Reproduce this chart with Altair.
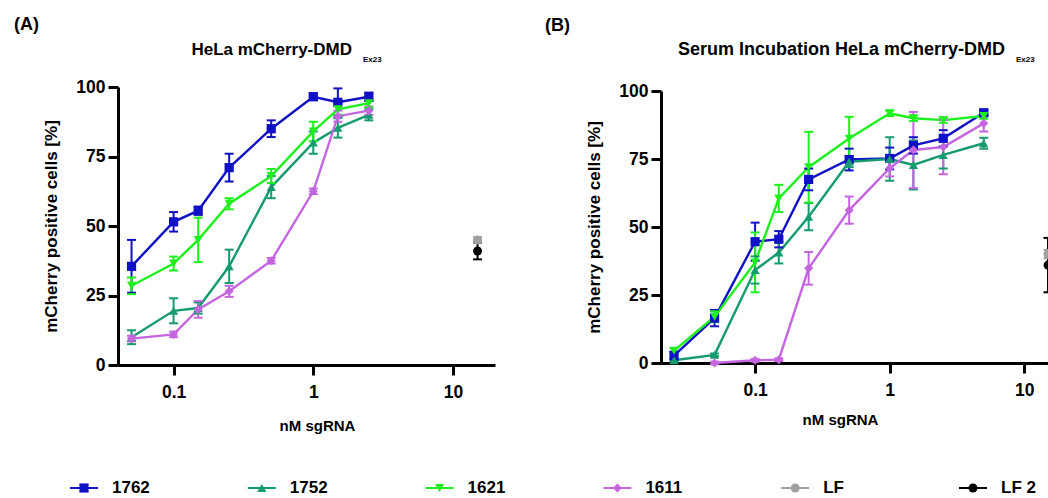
import altair as alt
import pandas as pd

FONT = "Liberation Sans"

series = ["1762", "1752", "1621", "1611", "LF", "LF 2"]
colors = ["#1010c4", "#169a70", "#1ef01e", "#c466e0", "#a0a0a0", "#000000"]
shapes = ["square", "triangle-up", "triangle-down", "diamond", "circle", "circle"]
sizes = [85, 80, 80, 60, 45, 40]

# Panel A: HeLa mCherry-DMD Ex23
conc_A = [0.05, 0.1, 0.15, 0.25, 0.5, 1, 1.5, 2.5]
A_1762 = [35.5, 51.5, 55.5, 71.0, 85.0, 96.5, 94.5, 96.5]
A_1762_err = [9.5, 3.5, 1.5, 5.0, 3.0, 1.2, 5.0, 1.5]
A_1752 = [10.0, 19.5, 20.5, 35.5, 64.0, 80.0, 85.3, 90.0]
A_1752_err = [2.5, 4.5, 2.0, 6.0, 4.0, 4.0, 3.5, 2.0]
A_1621 = [28.5, 36.5, 45.0, 58.0, 68.0, 84.0, 92.0, 94.2]
A_1621_err = [3.0, 2.5, 8.0, 2.0, 2.5, 3.5, 2.0, 1.5]
A_1611 = [9.5, 11.0, 20.0, 26.5, 37.5, 62.5, 89.5, 91.5]
A_1611_err = [1.0, 1.0, 3.0, 2.0, 1.0, 1.0, 2.0, 1.5]
conc_LF = [15]
A_LF = [45.0]
A_LF_err = [1.0]
A_LF2 = [41.0]
A_LF2_err = [3.0]

# Panel B: Serum incubation HeLa mCherry-DMD Ex23
conc_B = [0.025, 0.05, 0.1, 0.15, 0.25, 0.5, 1, 1.5, 2.5, 5]
B_1762 = [2.7, 16.5, 44.6, 45.5, 67.5, 74.8, 75.2, 80.0, 82.6, 92.0]
B_1762_err = [1.5, 3.0, 7.0, 3.0, 4.0, 4.0, 4.0, 3.0, 3.0, 1.0]
B_1752 = [1.0, 3.0, 34.2, 40.6, 53.8, 74.0, 75.0, 72.8, 76.5, 80.8]
B_1752_err = [0.5, 0.5, 5.0, 4.0, 5.0, 2.0, 8.0, 9.0, 5.0, 2.0]
B_1621 = [4.5, 17.0, 37.0, 60.5, 72.0, 82.5, 91.8, 90.0, 89.3, 90.8]
B_1621_err = [1.0, 2.0, 11.0, 5.0, 13.0, 8.0, 1.0, 1.0, 1.0, 1.0]
conc_B_1611 = [0.05, 0.1, 0.15, 0.25, 0.5, 1, 1.5, 2.5, 5]
B_1611 = [0.0, 1.0, 1.2, 34.8, 56.2, 71.6, 78.3, 79.4, 88.1]
B_1611_err = [0.5, 0.5, 0.5, 6.0, 5.0, 3.0, 14.0, 10.0, 3.0]
B_LF = [40.0]
B_LF_err = [1.5]
B_LF2 = [36.0]
B_LF2_err = [10.0]


def frame(items):
    rows = []
    for name, xs, ys, es in items:
        for x, y, e in zip(xs, ys, es):
            rows.append({"series": name, "conc": x, "val": y, "lo": y - e, "hi": y + e})
    return pd.DataFrame(rows)


dfA = frame([("1762", conc_A, A_1762, A_1762_err), ("1752", conc_A, A_1752, A_1752_err),
             ("1621", conc_A, A_1621, A_1621_err), ("1611", conc_A, A_1611, A_1611_err),
             ("LF", conc_LF, A_LF, A_LF_err), ("LF 2", conc_LF, A_LF2, A_LF2_err)])
dfB = frame([("1762", conc_B, B_1762, B_1762_err), ("1752", conc_B, B_1752, B_1752_err),
             ("1621", conc_B, B_1621, B_1621_err), ("1611", conc_B_1611, B_1611, B_1611_err),
             ("LF", conc_LF, B_LF, B_LF_err), ("LF 2", conc_LF, B_LF2, B_LF2_err)])

color = alt.Color("series:N", scale=alt.Scale(domain=series, range=colors), legend=None)
shape = alt.Shape("series:N", scale=alt.Scale(domain=series, range=shapes), legend=None)
size = alt.Size("series:N", scale=alt.Scale(domain=series, range=sizes), legend=None)

ytitle = "mCherry positive cells [%]"

# whole figure: plot origin at (118, 87) of a 1048 x 498 page
W, H = 930, 411


def panel(df, xdomain, xrange, yrange, x_offset, y_offset, title_x, title_pad):
    xscale = alt.Scale(type="log", domain=xdomain, range=xrange, nice=False)
    yscale = alt.Scale(domain=[0, 100], range=yrange, nice=False, zero=True)
    xaxis = alt.Axis(orient="bottom", offset=x_offset, values=[0.1, 1, 10], format=".1~f",
                     title="nM sgRNA", titleX=title_x, titlePadding=title_pad)
    yaxis = alt.Axis(orient="left", offset=y_offset, values=[0, 25, 50, 75, 100], title=ytitle)

    def X(f):
        return alt.X(f, scale=xscale, axis=xaxis)

    def Y(f):
        return alt.Y(f, scale=yscale, axis=yaxis)

    b = alt.Chart(df)
    line = b.mark_line(strokeWidth=2.4).encode(x=X("conc:Q"), y=Y("val:Q"), color=color,
                                                detail="series:N")
    vbar = b.mark_rule(strokeWidth=2).encode(x=X("conc:Q"), y=Y("lo:Q"), y2="hi:Q", color=color)
    cap_hi = b.mark_rule(strokeWidth=2, xOffset=-4.5, x2Offset=4.5).encode(
        x=X("conc:Q"), x2="conc:Q", y=Y("hi:Q"), color=color)
    cap_lo = b.mark_rule(strokeWidth=2, xOffset=-4.5, x2Offset=4.5).encode(
        x=X("conc:Q"), x2="conc:Q", y=Y("lo:Q"), color=color)
    pts = b.mark_point(filled=True, opacity=1).encode(
        x=X("conc:Q"), y=Y("val:Q"), color=color, shape=shape, size=size)
    return alt.layer(line, vbar, cap_hi, cap_lo, pts)


panelA = panel(dfA, [0.04, 20], [0, 377], [278, 0], -133, 0, 199, 18)
panelB = panel(dfB, [0.02, 15], [543, 930], [276, 4], -135, -543, 722, 14)

# Legend (one entry per series, evenly spaced)
leg_df = pd.DataFrame({"idx": list(range(len(series))), "series": series})
LX = alt.X("idx:Q", scale=alt.Scale(domain=[0, 5], range=[-34, 855], nice=False, zero=False),
           axis=None)
lb = alt.Chart(leg_df)
legend = alt.layer(
    lb.mark_rule(strokeWidth=2, xOffset=-14, x2Offset=14).encode(
        x=LX, x2="idx:Q", y=alt.value(401), color=color),
    lb.mark_point(filled=True, opacity=1).encode(
        x=LX, y=alt.value(401), color=color, shape=shape, size=size),
    lb.mark_text(align="left", baseline="middle", dx=28, font=FONT, fontSize=17,
                 fontWeight="bold", color="black").encode(x=LX, y=alt.value(401), text="series:N"),
)

# Panel labels and titles
labels = ["(A)", "HeLa mCherry-DMD", "Ex23", "(B)", "Serum Incubation HeLa mCherry-DMD", "Ex23 "]
tdf = pd.DataFrame({"t": labels})


def text(t, x, y, size, align="left"):
    return alt.Chart(tdf).transform_filter(alt.datum.t == t).mark_text(
        align=align, baseline="middle", font=FONT, fontSize=size, fontWeight="bold", color="black"
    ).encode(x=alt.value(x), y=alt.value(y), text="t:N")


texts = [
    text("(A)", -104, -62, 18),
    text("HeLa mCherry-DMD", 234, -37, 17, "right"),
    text("Ex23", 245, -27, 8),
    text("(B)", 427, -61, 18),
    text("Serum Incubation HeLa mCherry-DMD", 887, -37, 18, "right"),
    text("Ex23 ", 898, -27, 8),
]

chart = alt.layer(panelA, panelB, legend, *texts).resolve_scale(
    x="independent", y="independent"
).properties(
    width=W, height=H,
    autosize=alt.AutoSizeParams(type="none"),
    padding={"left": 118, "top": 87, "right": 0, "bottom": 0},
).configure_view(stroke=None).configure_axis(
    domainColor="black", domainWidth=3, tickColor="black", tickWidth=3, tickSize=10,
    grid=False, labelFont=FONT, labelFontSize=17.5, labelFontWeight="bold", labelColor="black",
    titleFont=FONT, titleFontSize=17, titleFontWeight="bold", titleColor="black",
).configure_axisY(labelPadding=3, titlePadding=15).configure_axisX(labelPadding=8, titleFontSize=15)

chart.save("out.html", embed_options={"renderer": "svg", "actions": False})
